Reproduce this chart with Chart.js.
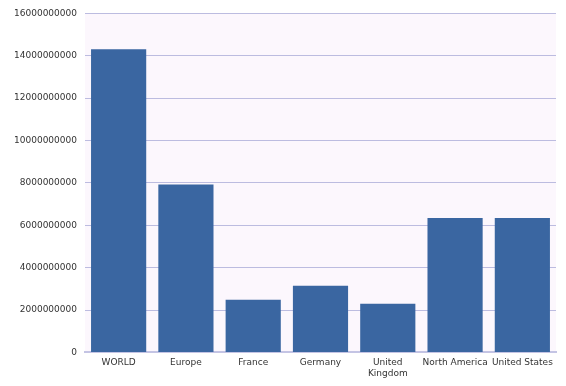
<!DOCTYPE html>
<html>
<head>
<meta charset="utf-8">
<script src="https://cdn.jsdelivr.net/npm/chart.js@4/dist/chart.umd.min.js"></script>
<style>
  html, body { margin: 0; padding: 0; background: #fff; }
  #wrap { width: 566px; height: 386px; }
</style>
</head>
<body>
<div id="wrap"><canvas id="chart" width="566" height="386"></canvas></div>
<script>
const categories = ["WORLD", "Europe", "France", "Germany", ["United", "Kingdom"], "North America", "United States"];
const values = [14310000000, 7930000000, 2490000000, 3150000000, 2300000000, 6340000000, 6340000000];
const yTicks = [0, 2000000000, 4000000000, 6000000000, 8000000000, 10000000000, 12000000000, 14000000000, 16000000000];

// plot background
const plotBg = {
    id: "plotBg",
    beforeDraw(chart) {
        const a = chart.chartArea;
        const ctx = chart.ctx;
        ctx.save();
        ctx.fillStyle = "#fcf7fd";
        ctx.fillRect(a.left, a.top, a.right - a.left, a.bottom - a.top);
        ctx.restore();
    }
};

const ctx = document.getElementById("chart").getContext("2d");
new Chart(ctx, {
    type: "bar",
    data: {
        labels: categories,
        datasets: [{
            data: values,
            backgroundColor: "#3a66a1",
            borderWidth: 0,
            categoryPercentage: 0.82,
            barPercentage: 1.0
        }]
    },
    options: {
        responsive: false,
        animation: false,
        layout: { padding: { left: 6, right: 10, top: 2, bottom: 2 } },
        plugins: { legend: { display: false }, tooltip: { enabled: false } },
        scales: {
            x: {
                grid: { display: false, drawTicks: false },
                border: { color: "#c4c4e4", width: 2 },
                ticks: {
                    color: "#333",
                    font: { family: "DejaVu Sans", size: 9 },
                    padding: 5,
                    maxRotation: 0,
                    autoSkip: false
                }
            },
            y: {
                min: 0,
                max: 16000000000,
                afterBuildTicks: axis => { axis.ticks = yTicks.map(v => ({ value: v })); },
                grid: { color: "#bcbce0", lineWidth: 1, drawTicks: false },
                border: { display: false },
                ticks: {
                    color: "#333",
                    font: { family: "DejaVu Sans", size: 9 },
                    padding: 8,
                    callback: v => String(v)
                }
            }
        }
    },
    plugins: [plotBg]
});
</script>
</body>
</html>
